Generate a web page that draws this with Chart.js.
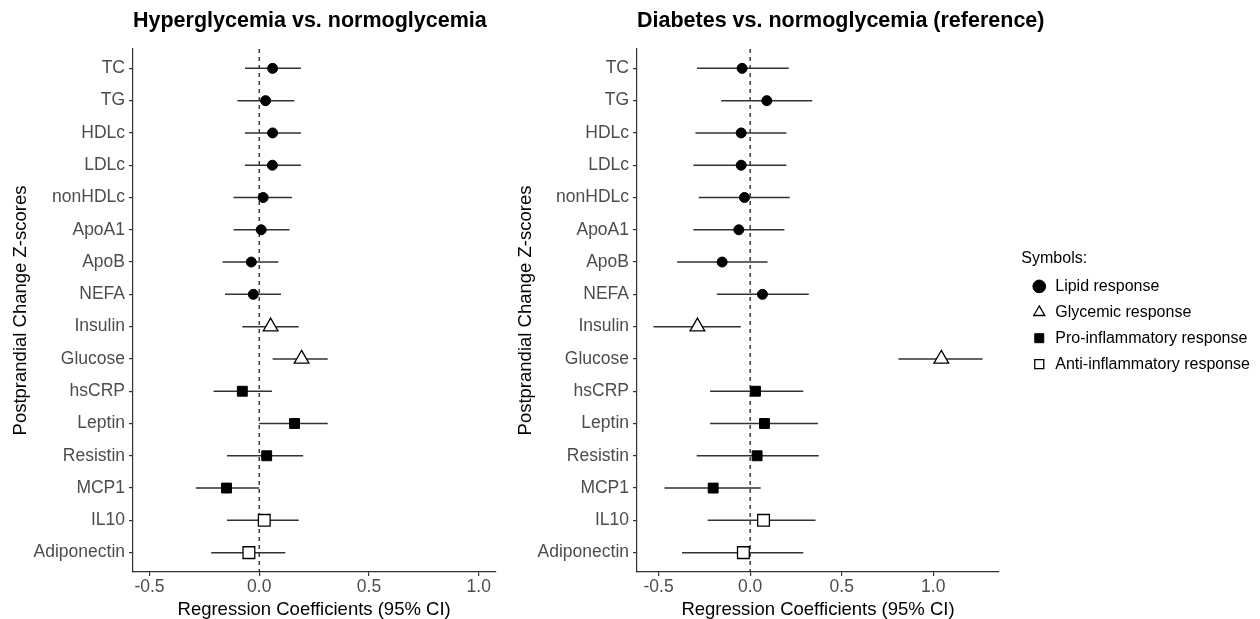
<!DOCTYPE html>
<html lang="en">
<head>
<meta charset="UTF-8">
<title>Postprandial change regression coefficients</title>
<script src="https://cdn.jsdelivr.net/npm/chart.js@4.4.1/dist/chart.umd.min.js"></script>
<style>
  html, body { margin: 0; padding: 0; background: #fff; overflow: hidden; }
  #wrap { position: relative; width: 1260px; height: 619px; }
  .panel { position: absolute; top: 0; height: 619px; }
  #leftBox { left: 0; width: 505px; }
  #rightBox { left: 505px; width: 755px; }
  #legendBox { left: 760px; width: 500px; pointer-events: none; }
</style>
</head>
<body>
<div id="wrap">
  <div class="panel" id="leftBox"><canvas id="hyperChart"></canvas></div>
  <div class="panel" id="rightBox"><canvas id="diabChart"></canvas></div>
  <div class="panel" id="legendBox"><canvas id="legendChart"></canvas></div>
</div>
<script>
// outcome markers, top to bottom
const markers = ['TC', 'TG', 'HDLc', 'LDLc', 'nonHDLc', 'ApoA1', 'ApoB', 'NEFA',
  'Insulin', 'Glucose', 'hsCRP', 'Leptin', 'Resistin', 'MCP1', 'IL10', 'Adiponectin'];
const groups = ['Lipid response', 'Lipid response', 'Lipid response', 'Lipid response',
  'Lipid response', 'Lipid response', 'Lipid response', 'Lipid response',
  'Glycemic response', 'Glycemic response',
  'Pro-inflammatory response', 'Pro-inflammatory response', 'Pro-inflammatory response', 'Pro-inflammatory response',
  'Anti-inflammatory response', 'Anti-inflammatory response'];
const groupNames = ['Lipid response', 'Glycemic response', 'Pro-inflammatory response', 'Anti-inflammatory response'];

// hyperglycemia vs. normoglycemia
const hyperEst  = [0.061, 0.029, 0.061, 0.060, 0.018, 0.009, -0.036, -0.027, 0.052, 0.193, -0.077, 0.161, 0.034, -0.149, 0.023, -0.047];
const hyperLow  = [-0.065, -0.099, -0.065, -0.065, -0.117, -0.117, -0.167, -0.156, -0.077, 0.061, -0.208, 0.000, -0.147, -0.289, -0.147, -0.219];
const hyperHigh = [0.190, 0.160, 0.190, 0.190, 0.149, 0.138, 0.087, 0.099, 0.180, 0.312, 0.058, 0.312, 0.200, 0.000, 0.180, 0.119];

// diabetes vs. normoglycemia (reference)
const diabEst  = [-0.044, 0.091, -0.049, -0.049, -0.031, -0.062, -0.153, 0.067, -0.288, 1.044, 0.029, 0.078, 0.038, -0.202, 0.073, -0.037];
const diabLow  = [-0.290, -0.158, -0.299, -0.310, -0.281, -0.310, -0.399, -0.182, -0.528, 0.810, -0.219, -0.219, -0.292, -0.468, -0.232, -0.372];
const diabHigh = [0.211, 0.339, 0.198, 0.198, 0.216, 0.187, 0.095, 0.320, -0.051, 1.269, 0.290, 0.370, 0.375, 0.058, 0.357, 0.290];

const xTicks = [-0.5, 0.0, 0.5, 1.0];

const FONT = '"Liberation Sans", Arial, sans-serif';
Chart.defaults.font.family = FONT;

const symbols = {
  'Lipid response': { pointStyle: 'circle', radius: 5, fill: '#000', width: 1 },
  'Glycemic response': { pointStyle: 'triangle', radius: 8.5, fill: '#fff', width: 1.3 },
  'Pro-inflammatory response': { pointStyle: 'rect', radius: 7, fill: '#000', width: 1 },
  'Anti-inflammatory response': { pointStyle: 'rect', radius: 8.3, fill: '#fff', width: 1.3 }
};

// title drawn left-aligned with the panel, like ggplot
const panelTitle = {
  id: 'panelTitle',
  afterDraw(chart, args, opts) {
    const ctx = chart.ctx;
    ctx.save();
    ctx.font = 'bold 21.5px ' + FONT;
    ctx.fillStyle = '#000';
    ctx.textBaseline = 'middle';
    ctx.textAlign = 'left';
    ctx.fillText(opts.text, chart.chartArea.left, 21);
    ctx.restore();
  }
};

function axisStyle() {
  return {
    grid: { drawOnChartArea: false, drawTicks: true, tickLength: 4, color: '#333', lineWidth: 1.2 },
    border: { display: true, color: '#333', width: 1.2 }
  };
}

function makePanel(id, title, est, low, high, xmin, xmax, yWidth, padRight) {
  const pointSets = groupNames.map(g => {
    const s = symbols[g];
    return {
      label: g,
      data: markers.map((m, i) => groups[i] === g ? { x: est[i], y: i } : null).filter(p => p),
      pointStyle: s.pointStyle,
      pointRadius: s.radius,
      backgroundColor: s.fill,
      borderColor: '#000',
      borderWidth: s.width,
      order: 0
    };
  });

  // confidence intervals as one broken line
  const ciData = [];
  markers.forEach((m, i) => {
    ciData.push({ x: low[i], y: i }, { x: high[i], y: i }, { x: null, y: null });
  });

  const datasets = pointSets.concat([
    { label: 'ci', data: ciData, showLine: true, pointRadius: 0, borderColor: '#333', borderWidth: 1.5, order: 1 },
    { label: 'zero', data: [{ x: 0, y: -0.6 }, { x: 0, y: 15.6 }], showLine: true, pointRadius: 0,
      borderColor: '#222', borderWidth: 1.3, borderDash: [4, 4], order: 2 }
  ]);

  return new Chart(document.getElementById(id), {
    type: 'scatter',
    data: { datasets },
    plugins: [panelTitle],
    options: {
      responsive: true,
      maintainAspectRatio: false,
      animation: false,
      events: [],
      layout: { padding: { top: 49, right: padRight, left: 0, bottom: 0 } },
      scales: {
        x: Object.assign(axisStyle(), {
          type: 'linear', min: xmin, max: xmax,
          afterBuildTicks: s => { s.ticks = xTicks.map(v => ({ value: v })); },
          afterFit: s => { s.height = 47; },
          ticks: { callback: v => v.toFixed(1), color: '#4D4D4D', font: { size: 17.5 }, padding: 1, maxRotation: 0 },
          title: { display: true, text: 'Regression Coefficients (95% CI)', color: '#000',
            font: { size: 18.5, lineHeight: 1 }, padding: { top: 0, bottom: 0 } }
        }),
        y: Object.assign(axisStyle(), {
          type: 'linear', reverse: true, min: -0.6, max: 15.6,
          afterBuildTicks: s => { s.ticks = markers.map((m, i) => ({ value: i })); },
          afterFit: s => { s.width = yWidth; },
          ticks: { callback: v => markers[v], color: '#4D4D4D', font: { size: 17.5 }, padding: 4, autoSkip: false },
          title: { display: true, text: 'Postprandial Change Z-scores', color: '#000',
            font: { size: 18.5, lineHeight: 1 }, padding: { top: 11.5, bottom: 0 } }
        })
      },
      plugins: {
        legend: { display: false },
        tooltip: { enabled: false },
        panelTitle: { text: title }
      }
    }
  });
}

makePanel('hyperChart', 'Hyperglycemia vs. normoglycemia', hyperEst, hyperLow, hyperHigh, -0.575, 1.075, 133, 9);
makePanel('diabChart', 'Diabetes vs. normoglycemia (reference)', diabEst, diabLow, diabHigh, -0.618, 1.359, 132, 261);

// shared symbol legend, overlaid at the right edge
new Chart(document.getElementById('legendChart'), {
  type: 'scatter',
  data: {
    datasets: groupNames.map(g => ({
      label: g,
      data: [],
      pointStyle: symbols[g].pointStyle,
      backgroundColor: symbols[g].fill,
      borderColor: '#000',
      borderWidth: symbols[g].width
    }))
  },
  options: {
    responsive: true,
    maintainAspectRatio: false,
    animation: false,
    events: [],
    layout: { padding: { top: 14 } },
    scales: { x: { display: false }, y: { display: false } },
    plugins: {
      tooltip: { enabled: false },
      legend: {
        position: 'right',
        align: 'center',
        title: { display: true, text: 'Symbols:', position: 'start', color: '#000',
          font: { size: 16, lineHeight: 1 }, padding: { top: 0, bottom: 1.5 } },
        labels: { usePointStyle: true, boxHeight: 9, padding: 9.9, color: '#000', font: { size: 16 } }
      }
    }
  }
});
</script>
</body>
</html>
